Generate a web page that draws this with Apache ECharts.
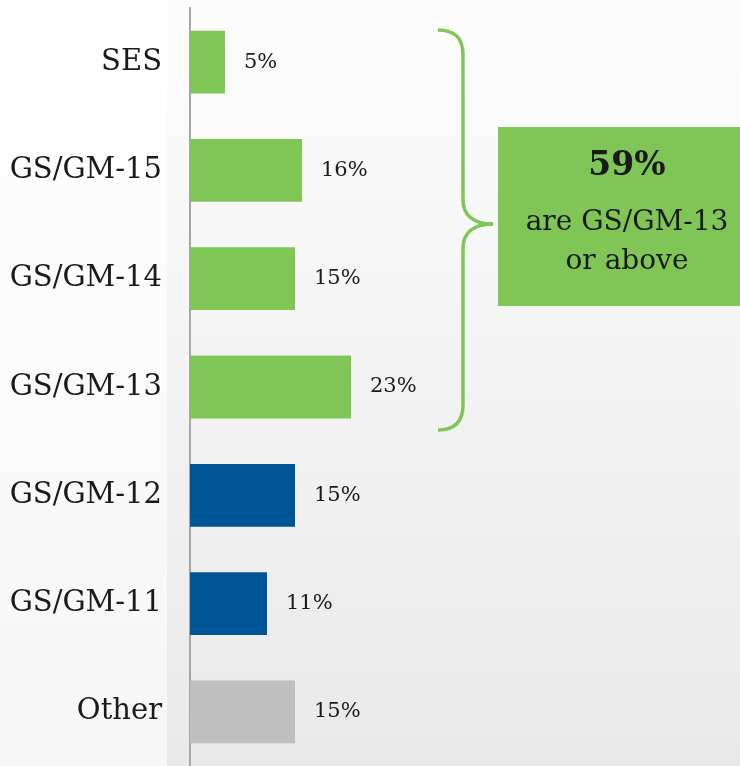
<!DOCTYPE html>
<html>
<head>
<meta charset="utf-8">
<script src="https://cdn.jsdelivr.net/npm/echarts@6/dist/echarts.min.js"></script>
<style>
  html, body { margin: 0; padding: 0; }
  #chart { width: 740px; height: 766px; }
</style>
</head>
<body>
<div id="chart"></div>
<script>
// Share of staff by grade (percent)
const categories = ['SES', 'GS/GM-15', 'GS/GM-14', 'GS/GM-13', 'GS/GM-12', 'GS/GM-11', 'Other'];
const values = [5, 16, 15, 23, 15, 11, 15];
const groups = ['senior', 'senior', 'senior', 'senior', 'mid', 'mid', 'other'];
const calloutLines = ['59%', 'are GS/GM-13', 'or above'];

const groupColors = { senior: '#80c657', mid: '#005596', other: '#bfbfbf' };
const serif = '"DejaVu Serif", Georgia, serif';
const braceStyle = { fill: 'none', stroke: '#80c657', lineWidth: 3.5 };

const chart = echarts.init(document.getElementById('chart'), null, { renderer: 'canvas' });

// curly brace built from curve and line pieces
function braceCurve(x1, y1, cpx1, cpy1, cpx2, cpy2, x2, y2) {
  return { type: 'bezierCurve', z: 10, silent: true,
    shape: { x1, y1, cpx1, cpy1, cpx2, cpy2, x2, y2 }, style: braceStyle };
}
function braceLine(x1, y1, x2, y2) {
  return { type: 'line', z: 10, silent: true, shape: { x1, y1, x2, y2 }, style: braceStyle };
}

const option = {
  animation: false,
  backgroundColor: {
    type: 'linear', x: 0, y: 0, x2: 0, y2: 1,
    colorStops: [{ offset: 0, color: '#fdfdfd' }, { offset: 1, color: '#e9e9e9' }]
  },
  grid: { left: 190, right: 4, top: 8, bottom: -2 },
  xAxis: {
    type: 'value', min: 0, max: 78,
    show: false
  },
  yAxis: {
    type: 'category',
    data: categories,
    inverse: true,
    axisLine: { show: true, lineStyle: { color: '#a6a6a6', width: 2 } },
    axisTick: { show: false },
    axisLabel: { fontFamily: serif, fontSize: 29, color: '#1a1a1a', margin: 28 }
  },
  series: [{
    type: 'bar',
    barCategoryGap: '42%',
    data: values.map((v, i) => ({ value: v, itemStyle: { color: groupColors[groups[i]] } })),
    label: {
      show: true, position: 'right', distance: 19,
      fontFamily: serif, fontSize: 21, color: '#1a1a1a',
      formatter: p => p.value + '%'
    }
  }],
  graphic: [
    {
      type: 'rect', z: -1, silent: true,
      shape: { x: 0, y: 0, width: 167, height: 766 },
      style: {
        fill: {
          type: 'linear', x: 0, y: 0, x2: 0, y2: 1,
          colorStops: [{ offset: 0, color: '#ffffff' }, { offset: 1, color: '#f6f6f6' }]
        }
      }
    },
    braceCurve(438, 30, 455, 30, 463, 38, 463, 55),
    braceLine(463, 55, 463, 200),
    braceCurve(463, 200, 463, 214, 472, 224, 493, 224),
    braceCurve(493, 224, 472, 224, 463, 234, 463, 248),
    braceLine(463, 248, 463, 405),
    braceCurve(463, 405, 463, 421, 455, 430, 438, 430),
    {
      type: 'rect', z: 10, silent: true,
      shape: { x: 498, y: 127, width: 242, height: 179 },
      style: { fill: '#80c657' }
    },
    {
      type: 'text', z: 11, silent: true,
      x: 627, y: 166,
      style: {
        text: calloutLines[0], fontFamily: serif, fontWeight: 'bold', fontSize: 33,
        fill: '#1a1a1a', align: 'center', verticalAlign: 'middle'
      }
    },
    {
      type: 'text', z: 11, silent: true,
      x: 627, y: 223,
      style: {
        text: calloutLines[1], fontFamily: serif, fontSize: 28,
        fill: '#1a1a1a', align: 'center', verticalAlign: 'middle'
      }
    },
    {
      type: 'text', z: 11, silent: true,
      x: 627, y: 262,
      style: {
        text: calloutLines[2], fontFamily: serif, fontSize: 28,
        fill: '#1a1a1a', align: 'center', verticalAlign: 'middle'
      }
    }
  ]
};

chart.setOption(option);
</script>
</body>
</html>
